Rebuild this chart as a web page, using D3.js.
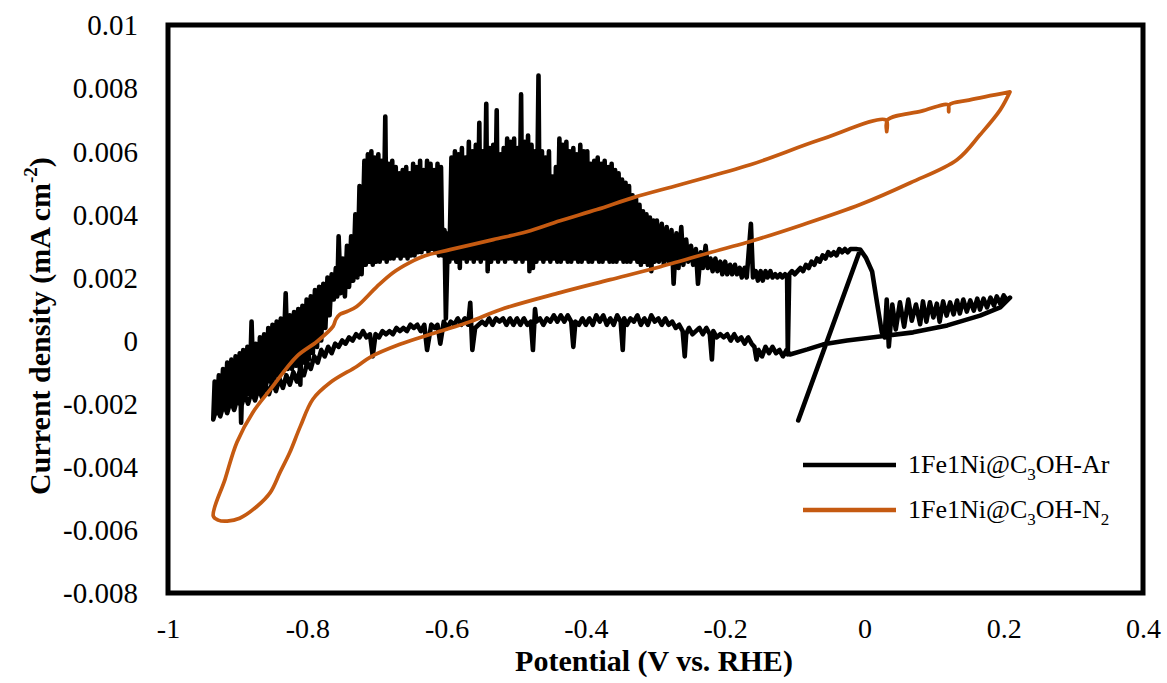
<!DOCTYPE html>
<html>
<head>
<meta charset="utf-8">
<script src="https://cdn.jsdelivr.net/npm/d3@7"></script>
<style>
  html, body { margin: 0; padding: 0; background: #fff; }
  svg { display: block; }
</style>
</head>
<body>
<svg id="chart" width="1167" height="683"></svg>
<script>
// ---------- data ----------
const xTicks = [-1, -0.8, -0.6, -0.4, -0.2, 0, 0.2, 0.4];
const xTickLabels = ["-1", "-0.8", "-0.6", "-0.4", "-0.2", "0", "0.2", "0.4"];
const yTicks = [-0.008, -0.006, -0.004, -0.002, 0, 0.002, 0.004, 0.006, 0.008, 0.01];
const yTickLabels = ["-0.008", "-0.006", "-0.004", "-0.002", "0", "0.002", "0.004", "0.006", "0.008", "0.01"];
const seriesNames = ["1Fe1Ni@C|3|OH-Ar", "1Fe1Ni@C|3|OH-N|2|"];
const seriesColors = ["#000000", "#C55A11"];

// 1Fe1Ni@C3OH-Ar : [potential V, current density mA cm-2], in scan order
const arStart = [[-0.095,-0.00253],[-0.006,0.00288],[0.002,0.00263],[0.011,0.00219],[0.018,0.00121],[0.025,0.00026],[0.029,0.0001]];
const arForward = [[0.032,0.0013],[0.035,-0.00019],[0.040,0.00114],[0.045,0.00035],[0.051,0.00121],[0.057,0.00044],[0.063,0.0013],[0.068,0.00063],[0.074,0.00114],[0.080,0.00052],[0.084,0.00124],[0.089,0.0006],[0.094,0.00121],[0.099,0.00073],[0.104,0.00117],[0.108,0.0006],[0.113,0.00124],[0.118,0.00079],[0.123,0.00121],[0.128,0.00083],[0.133,0.00127],[0.137,0.00086],[0.142,0.0013],[0.147,0.00092],[0.152,0.00127],[0.157,0.00095],[0.162,0.00133],[0.166,0.00098],[0.171,0.00133],[0.176,0.00105],[0.181,0.00136],[0.186,0.00111],[0.190,0.0014],[0.195,0.00117],[0.200,0.00143],[0.205,0.00127],[0.209,0.00136]];
const arReverse = [[0.195,0.00105],[0.166,0.00079],[0.119,0.00048],[0.070,0.00026],[0.022,0.00013],[-0.025,0.0],[-0.059,-0.00012],[-0.082,-0.00028],[-0.107,-0.00044],[-0.112,-0.0003],[-0.117,-0.0005],[-0.122,-0.0003],[-0.127,-0.0004],[-0.132,-0.0002],[-0.137,-0.0004],[-0.142,-0.0002],[-0.147,-0.0005],[-0.152,-0.0003],[-0.155,-0.0006],[-0.158,-0.0002],[-0.162,-0.0001],[-0.167,0.0001],[-0.172,-0.0001],[-0.177,0.0001],[-0.182,0.0],[-0.187,0.0002],[-0.192,0.0],[-0.197,0.0002],[-0.202,0.0001],[-0.207,0.0002],[-0.212,0.0001],[-0.217,0.0003],[-0.219,-0.0006],[-0.222,0.0002],[-0.227,0.0004],[-0.232,0.0002],[-0.237,0.0004],[-0.242,0.0003],[-0.247,0.0002],[-0.252,0.0004],[-0.256,0.0002],[-0.258,-0.0005],[-0.261,0.0003],[-0.266,0.0005],[-0.271,0.0004],[-0.276,0.0006],[-0.281,0.0005],[-0.286,0.0007],[-0.291,0.0005],[-0.296,0.0007],[-0.301,0.0006],[-0.306,0.0008],[-0.311,0.0005],[-0.316,0.0007],[-0.321,0.0005],[-0.326,0.0008],[-0.331,0.0006],[-0.336,0.0007],[-0.341,0.0005],[-0.345,0.0007],[-0.347,-0.0003],[-0.350,0.0006],[-0.355,0.0008],[-0.360,0.0005],[-0.365,0.0007],[-0.370,0.0005],[-0.375,0.0008],[-0.380,0.0006],[-0.385,0.0008],[-0.390,0.0005],[-0.395,0.0007],[-0.400,0.0005],[-0.405,0.0007],[-0.410,0.0005],[-0.415,0.0006],[-0.418,-0.0002],[-0.421,0.0006],[-0.426,0.0008],[-0.431,0.0006],[-0.436,0.0008],[-0.441,0.0006],[-0.446,0.0008],[-0.451,0.0006],[-0.456,0.0007],[-0.461,0.0005],[-0.466,0.0007],[-0.471,0.0006],[-0.473,0.0010],[-0.476,-0.0003],[-0.479,0.0006],[-0.484,0.0005],[-0.489,0.0007],[-0.494,0.0005],[-0.499,0.0007],[-0.504,0.0005],[-0.509,0.0007],[-0.514,0.0005],[-0.519,0.0007],[-0.524,0.0006],[-0.529,0.0007],[-0.534,0.0005],[-0.539,0.0007],[-0.544,0.0005],[-0.549,0.0006],[-0.554,0.0005],[-0.559,0.0004],[-0.563,-0.0003],[-0.566,0.0012],[-0.569,0.0005],[-0.574,0.0007],[-0.579,0.0005],[-0.584,0.0007],[-0.589,0.0005],[-0.594,0.0006],[-0.599,0.0004],[-0.604,0.0006],[-0.609,-0.0001],[-0.613,0.0005],[-0.617,0.0004],[-0.622,0.0005],[-0.628,-0.0003],[-0.632,0.0005],[-0.637,0.0003],[-0.642,0.0005],[-0.647,0.0004],[-0.652,0.0005],[-0.657,0.0003],[-0.662,0.0004],[-0.667,0.0003],[-0.672,0.0004],[-0.677,0.0002],[-0.682,0.0003],[-0.687,0.0002],[-0.692,0.0003],[-0.697,0.0001],[-0.702,0.0002],[-0.706,-0.0005],[-0.710,0.0002],[-0.715,0.0001],[-0.720,0.0003],[-0.725,0.0001],[-0.730,0.0002],[-0.735,0.0],[-0.740,0.0001],[-0.745,-0.0001],[-0.750,0.0],[-0.755,-0.0002],[-0.760,-0.0001],[-0.765,-0.0004],[-0.770,-0.0002],[-0.775,-0.0005],[-0.780,-0.0003],[-0.785,-0.0007],[-0.790,-0.0005],[-0.795,-0.0009],[-0.800,-0.0007],[-0.805,-0.0011],[-0.810,-0.0009],[-0.815,-0.0013],[-0.820,-0.0010],[-0.825,-0.0014],[-0.830,-0.0011],[-0.835,-0.0015],[-0.840,-0.0012],[-0.845,-0.0016],[-0.850,-0.0013],[-0.855,-0.0017],[-0.860,-0.0014],[-0.865,-0.0018],[-0.870,-0.0015],[-0.875,-0.0019],[-0.880,-0.0016],[-0.885,-0.0020],[-0.890,-0.0017],[-0.895,-0.0021],[-0.900,-0.0018],[-0.905,-0.0022],[-0.910,-0.0019],[-0.915,-0.0023],[-0.920,-0.0020],[-0.925,-0.0024],[-0.930,-0.0021],[-0.935,-0.0025]];
const arReturnLow = [[-0.933,-0.0013],[-0.930,-0.0023],[-0.927,-0.0011],[-0.924,-0.0022],[-0.921,-0.0009],[-0.918,-0.0021],[-0.915,-0.0007],[-0.912,-0.0020],[-0.909,-0.0006],[-0.906,-0.0019],[-0.903,-0.0005],[-0.900,-0.0019],[-0.897,-0.0004],[-0.895,-0.0026],[-0.892,-0.0003],[-0.889,-0.0018],[-0.886,-0.0002],[-0.883,-0.0017],[-0.880,0.0006],[-0.877,-0.0016],[-0.874,-0.0001],[-0.871,-0.0016],[-0.868,0.0001],[-0.865,-0.0015],[-0.862,0.0002],[-0.859,-0.0014],[-0.856,0.0004],[-0.853,-0.0013],[-0.850,0.0005],[-0.847,-0.0012],[-0.844,0.0006],[-0.841,-0.0011],[-0.838,0.0007],[-0.835,-0.0010],[-0.831,0.0015],[-0.828,-0.0009],[-0.825,0.0008],[-0.822,-0.0009],[-0.819,0.0009],[-0.816,-0.0008],[-0.813,0.0010],[-0.810,-0.0014],[-0.807,0.0011],[-0.804,-0.0007],[-0.801,0.0013],[-0.798,-0.0006],[-0.795,0.0014],[-0.792,-0.0004],[-0.789,0.0016],[-0.786,-0.0002],[-0.783,0.0017],[-0.780,0.0],[-0.777,0.0018],[-0.774,0.0004],[-0.771,0.0020],[-0.768,0.0008],[-0.765,0.0021],[-0.762,0.0013],[-0.759,0.0023],[-0.757,0.0014],[-0.755,0.0033],[-0.752,0.0015],[-0.749,0.0026],[-0.746,0.0014],[-0.743,0.0030],[-0.740,0.0017],[-0.737,0.0033],[-0.734,0.0019],[-0.731,0.0040],[-0.728,0.0020],[-0.725,0.0049],[-0.722,0.0021]];
const arReturnPeak = [[-0.718,0.0057],[-0.716,0.0024],[-0.713,0.0059],[-0.711,0.0025],[-0.708,0.0060],[-0.706,0.0024],[-0.703,0.0058],[-0.701,0.0025],[-0.698,0.0059],[-0.696,0.0025],[-0.693,0.0057],[-0.691,0.0026],[-0.688,0.0071],[-0.686,0.0025],[-0.683,0.0056],[-0.681,0.0026],[-0.678,0.0057],[-0.676,0.0026],[-0.673,0.0055],[-0.671,0.0027],[-0.668,0.0053],[-0.666,0.0026],[-0.663,0.0054],[-0.661,0.0027],[-0.658,0.0055],[-0.656,0.0026],[-0.653,0.0053],[-0.651,0.0027],[-0.648,0.0056],[-0.646,0.0027],[-0.643,0.0055],[-0.641,0.0028],[-0.638,0.0057],[-0.636,0.0028],[-0.633,0.0054],[-0.631,0.0029],[-0.628,0.0057],[-0.626,0.0028],[-0.623,0.0056],[-0.621,0.0029],[-0.618,0.0054],[-0.616,0.0028],[-0.613,0.0056],[-0.611,0.0027],[-0.608,0.0055],[-0.606,0.0027],[-0.603,0.0035],[-0.601,0.0007],[-0.598,0.0034],[-0.596,0.0025],[-0.593,0.0058],[-0.591,0.0026],[-0.588,0.0060],[-0.586,0.0025],[-0.583,0.0059],[-0.581,0.0023],[-0.578,0.0061],[-0.576,0.0026],[-0.573,0.0058],[-0.571,0.0025],[-0.568,0.0063],[-0.566,0.0026],[-0.563,0.0060],[-0.561,0.0025],[-0.558,0.0062],[-0.556,0.0026],[-0.553,0.0069],[-0.551,0.0025],[-0.548,0.0060],[-0.546,0.0026],[-0.543,0.0075],[-0.541,0.0022],[-0.538,0.0061],[-0.536,0.0025],[-0.533,0.0062],[-0.531,0.0026],[-0.528,0.0073],[-0.526,0.0025],[-0.523,0.0059],[-0.521,0.0026],[-0.518,0.0061],[-0.516,0.0025],[-0.513,0.0064],[-0.511,0.0026],[-0.508,0.0063],[-0.506,0.0026],[-0.503,0.0064],[-0.501,0.0025],[-0.498,0.0061],[-0.496,0.0026],[-0.493,0.0078],[-0.491,0.0025],[-0.488,0.0063],[-0.486,0.0026],[-0.483,0.0065],[-0.481,0.0022],[-0.478,0.0062],[-0.476,0.0023],[-0.473,0.0060],[-0.471,0.0025],[-0.468,0.0084],[-0.466,0.0026],[-0.463,0.0060],[-0.461,0.0025],[-0.458,0.0058],[-0.456,0.0026],[-0.453,0.0060],[-0.451,0.0025],[-0.448,0.0052],[-0.446,0.0026],[-0.443,0.0055],[-0.441,0.0025],[-0.438,0.0064],[-0.436,0.0025],[-0.433,0.0062],[-0.431,0.0026],[-0.428,0.0063],[-0.426,0.0025],[-0.423,0.0060],[-0.421,0.0025],[-0.418,0.0061],[-0.416,0.0026],[-0.413,0.0059],[-0.411,0.0025],[-0.408,0.0062],[-0.406,0.0025],[-0.403,0.0060],[-0.401,0.0026],[-0.398,0.0060],[-0.396,0.0025],[-0.393,0.0056],[-0.391,0.0025],[-0.388,0.0057],[-0.386,0.0026],[-0.383,0.0058],[-0.381,0.0025],[-0.378,0.0056],[-0.376,0.0025],[-0.373,0.0057],[-0.371,0.0026],[-0.368,0.0055],[-0.366,0.0025],[-0.363,0.0056],[-0.361,0.0025],[-0.358,0.0054],[-0.356,0.0025],[-0.353,0.0053],[-0.351,0.0026],[-0.348,0.0051],[-0.346,0.0025],[-0.343,0.0050],[-0.341,0.0025],[-0.338,0.0049],[-0.336,0.0025],[-0.333,0.0046],[-0.331,0.0026],[-0.328,0.0045],[-0.326,0.0025],[-0.323,0.0043],[-0.321,0.0024],[-0.318,0.0041],[-0.316,0.0025],[-0.313,0.0040],[-0.311,0.0024],[-0.308,0.0039],[-0.306,0.0022],[-0.303,0.0038],[-0.301,0.0025]];
const arReturnHigh = [[-0.298,0.0038],[-0.295,0.0025],[-0.291,0.0037],[-0.288,0.0024],[-0.284,0.0036],[-0.281,0.0025],[-0.277,0.0035],[-0.274,0.0018],[-0.270,0.0034],[-0.267,0.0023],[-0.263,0.0036],[-0.260,0.0024],[-0.256,0.0032],[-0.253,0.0025],[-0.249,0.0030],[-0.246,0.0024],[-0.242,0.0029],[-0.239,0.0018],[-0.235,0.0028],[-0.232,0.0023],[-0.228,0.0030],[-0.225,0.0023],[-0.221,0.0026],[-0.218,0.0022],[-0.214,0.0026],[-0.211,0.0022],[-0.207,0.0025],[-0.204,0.0021],[-0.200,0.0025],[-0.197,0.0021],[-0.193,0.0024],[-0.190,0.0021],[-0.186,0.0024],[-0.183,0.0021],[-0.179,0.0023],[-0.176,0.0020],[-0.172,0.0023],[-0.169,0.0020],[-0.163,0.0037],[-0.160,0.0020],[-0.156,0.0022],[-0.153,0.0019],[-0.149,0.0022],[-0.146,0.0019],[-0.142,0.0022],[-0.139,0.0020],[-0.135,0.0022],[-0.132,0.0020],[-0.128,0.0021],[-0.125,0.0020],[-0.121,0.0021],[-0.118,0.0020],[-0.114,0.0021],[-0.111,0.0020],[-0.110,-0.00044],[-0.108,0.0021],[-0.104,0.0022],[-0.100,0.0021],[-0.096,0.0022],[-0.092,0.0023],[-0.088,0.0022],[-0.084,0.0024],[-0.080,0.0023],[-0.076,0.0025],[-0.072,0.0024],[-0.068,0.0026],[-0.064,0.0025],[-0.060,0.0027],[-0.056,0.0026],[-0.052,0.0028],[-0.048,0.0027],[-0.044,0.0028],[-0.040,0.0027],[-0.036,0.0029],[-0.032,0.0028],[-0.028,0.0029],[-0.024,0.0028],[-0.020,0.0029],[-0.016,0.0029],[-0.012,0.0029],[-0.006,0.00288]];

// 1Fe1Ni@C3OH-N2 : [potential V, current density mA cm-2]
const n2Loop = [[0.209,0.00788],[0.150,0.00762],[0.122,0.00747],[0.121,0.00725],[0.120,0.00747],[0.082,0.00727],[0.033,0.00699],[0.032,0.00662],[0.031,0.00699],[-0.064,0.00636],[-0.164,0.00557],[-0.265,0.00494],[-0.332,0.00453],[-0.384,0.00415],[-0.437,0.0038],[-0.485,0.00345],[-0.533,0.0032],[-0.595,0.00288],[-0.631,0.00269],[-0.653,0.00247],[-0.677,0.00215],[-0.700,0.00171],[-0.729,0.00108],[-0.743,0.00092],[-0.753,0.00083],[-0.759,0.00067],[-0.763,0.00045],[-0.786,-0.00003],[-0.815,-0.0005],[-0.853,-0.00155],[-0.878,-0.00227],[-0.901,-0.00322],[-0.918,-0.00439],[-0.935,-0.00556],[-0.928,-0.00569],[-0.915,-0.00572],[-0.897,-0.00563],[-0.872,-0.00525],[-0.853,-0.00481],[-0.839,-0.00417],[-0.825,-0.00354],[-0.810,-0.00272],[-0.792,-0.00186],[-0.767,-0.00133],[-0.729,-0.00082],[-0.710,-0.00053],[-0.667,-0.00012],[-0.614,0.00026],[-0.566,0.0006],[-0.523,0.00098],[-0.437,0.00152],[-0.365,0.00193],[-0.293,0.00234],[-0.207,0.00288],[-0.164,0.00314],[-0.093,0.00364],[-0.006,0.00431],[0.066,0.005],[0.133,0.00573],[0.166,0.00652],[0.195,0.00731],[0.209,0.00788]];

// ---------- drawing ----------
const svg = d3.select("#chart");
const plot = { left: 168, right: 1143, top: 25, bottom: 593 };
const FONT = "'Liberation Serif', 'Times New Roman', serif";

const x = d3.scaleLinear().domain([-1, 0.4]).range([plot.left, plot.right]);
const y = d3.scaleLinear().domain([-0.008, 0.01]).range([plot.bottom, plot.top]);

const line = d3.line().x(d => x(d[0])).y(d => y(d[1]));
const smooth = d3.line().x(d => x(d[0])).y(d => y(d[1])).curve(d3.curveCatmullRom.alpha(0.5));

// Ar series (black)
const arData = arStart.concat(arForward, arReverse, arReturnLow, arReturnPeak, arReturnHigh);
svg.append("path")
  .datum(arData)
  .attr("d", line)
  .attr("fill", "none")
  .attr("stroke", seriesColors[0])
  .attr("stroke-width", 4.6)
  .attr("stroke-linejoin", "round")
  .attr("stroke-linecap", "round");

// N2 series (orange)
svg.append("path")
  .datum(n2Loop)
  .attr("d", smooth)
  .attr("fill", "none")
  .attr("stroke", seriesColors[1])
  .attr("stroke-width", 3.7)
  .attr("stroke-linejoin", "round")
  .attr("stroke-linecap", "round");

// frame
svg.append("rect")
  .attr("x", plot.left).attr("y", plot.top)
  .attr("width", plot.right - plot.left).attr("height", plot.bottom - plot.top)
  .attr("fill", "none").attr("stroke", "#000").attr("stroke-width", 5);

// axes
const yAxis = d3.axisLeft(y).tickValues(yTicks).tickFormat((d, i) => yTickLabels[i]).tickSize(0).tickPadding(30);
const gy = svg.append("g").attr("transform", `translate(${plot.left},0)`).call(yAxis);
gy.select(".domain").remove();
gy.selectAll("text").attr("font-family", FONT).attr("font-size", 29).attr("fill", "#000").attr("dy", "0.34em");

const xAxis = d3.axisBottom(x).tickValues(xTicks).tickFormat((d, i) => xTickLabels[i]).tickSize(0).tickPadding(25);
const gx = svg.append("g").attr("transform", `translate(0,${plot.bottom})`).call(xAxis);
gx.select(".domain").remove();
gx.selectAll("text").attr("font-family", FONT).attr("font-size", 28).attr("fill", "#000");

// axis titles
svg.append("text")
  .attr("x", 654).attr("y", 671)
  .attr("text-anchor", "middle")
  .attr("font-family", FONT).attr("font-weight", "bold").attr("font-size", 30)
  .text("Potential (V vs. RHE)");

const yt = svg.append("text")
  .attr("transform", "translate(50,326) rotate(-90)")
  .attr("text-anchor", "middle")
  .attr("font-family", FONT).attr("font-weight", "bold").attr("font-size", 30);
yt.append("tspan").text("Current density (mA cm");
yt.append("tspan").attr("font-size", 19).attr("dy", -13).text("-2");
yt.append("tspan").attr("dy", 13).text(")");

// legend
const legend = svg.append("g");
const legY = [465, 510];
seriesNames.forEach((name, k) => {
  legend.append("line")
    .attr("x1", 803).attr("x2", 896).attr("y1", legY[k]).attr("y2", legY[k])
    .attr("stroke", seriesColors[k]).attr("stroke-width", 4.5);
  const t = legend.append("text")
    .attr("x", 908).attr("y", legY[k] + 8)
    .attr("font-family", FONT).attr("font-size", 26).attr("fill", "#000");
  const parts = name.split("|");
  parts.forEach((p, j) => {
    if (p === "") return;
    const isSub = j % 2 === 1;
    const ts = t.append("tspan").text(p);
    if (isSub) ts.attr("font-size", 17).attr("dy", 7);
    else if (j > 0) ts.attr("dy", -7);
  });
});
</script>
</body>
</html>
